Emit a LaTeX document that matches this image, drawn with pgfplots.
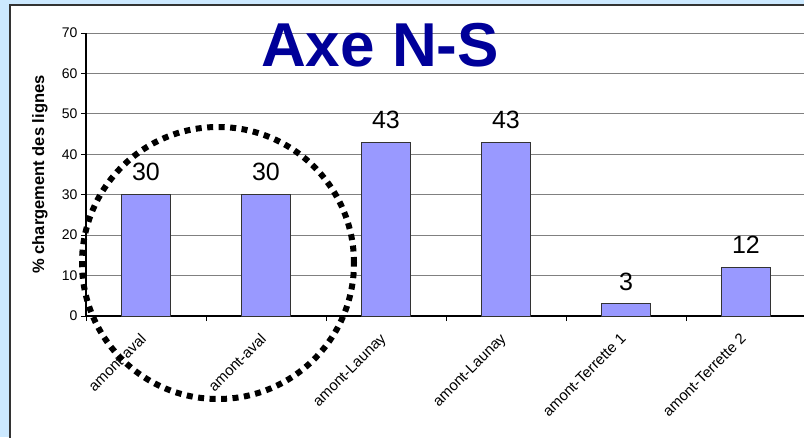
\documentclass[border=0pt]{standalone}
\usepackage{fontspec}
\setmainfont{Liberation Sans}
\usepackage{pgfplots}
\pgfplotsset{compat=1.18}
\definecolor{bgblue}{HTML}{CCE9FF}
\definecolor{barblue}{HTML}{9999FF}
\definecolor{titleblue}{HTML}{000099}
\begin{document}
\begin{tikzpicture}[x=1pt,y=1pt]
\useasboundingbox (0,0) rectangle (804,437);
\begin{scope}
\clip (0,0) rectangle (804,437);
\fill[bgblue] (0,0) rectangle (804,437);
\draw[fill=white, draw=black!80, line width=1.5pt] (10,-10) rectangle (830,432);
\begin{axis}[
  at={(86pt,121pt)}, anchor=south west,
  scale only axis, width=720pt, height=283pt,
  xmin=-0.5, xmax=5.5, ymin=0, ymax=70,
  axis lines*=left, axis line style={-, black, line width=1.2pt},
  ytick={0,10,...,70},
  xtick={-0.5,0.5,1.5,2.5,3.5,4.5},
  xticklabels={},
  extra x ticks={0,1,2,3,4,5},
  extra x tick labels={amont-aval,amont-aval,amont-Launay,amont-Launay,amont-Terrette 1,amont-Terrette 2},
  extra x tick style={major tick length=0pt, tick label style={rotate=45, anchor=north east, xshift=-12.8pt, yshift=-3.4pt, font=\fontsize{15}{17}\selectfont}},
  tick align=outside, major tick length=5pt,
  tick style={black, line width=0.8pt},
  ymajorgrids, grid style={gray, line width=1pt},
  /pgf/number format/assume math mode=true,
  y tick label style={font=\fontsize{14}{16}\selectfont},
  ylabel={\% chargement des lignes},
  ylabel style={font=\fontsize{16.5}{18}\selectfont\bfseries, at={(axis description cs:-0.064,0.5)}, anchor=center},
  nodes near coords,
  every node near coord/.append style={font=\fontsize{25}{30}\selectfont, inner sep=0pt, anchor=south, yshift=13pt, black},
  clip=false,
]
\addplot[ybar, bar width=49pt, fill=barblue, draw=black!80, line width=1pt] coordinates {(0,30) (1,30) (2,43) (3,43) (4,3) (5,12)};
\end{axis}
\node[font=\fontsize{62}{70}\selectfont\bfseries, text=titleblue] at (380,392) {Axe N-S};
\draw[line width=6pt, dash pattern=on 6pt off 5.5pt] (218,174) circle (136pt);
\end{scope}
\end{tikzpicture}
\end{document}
